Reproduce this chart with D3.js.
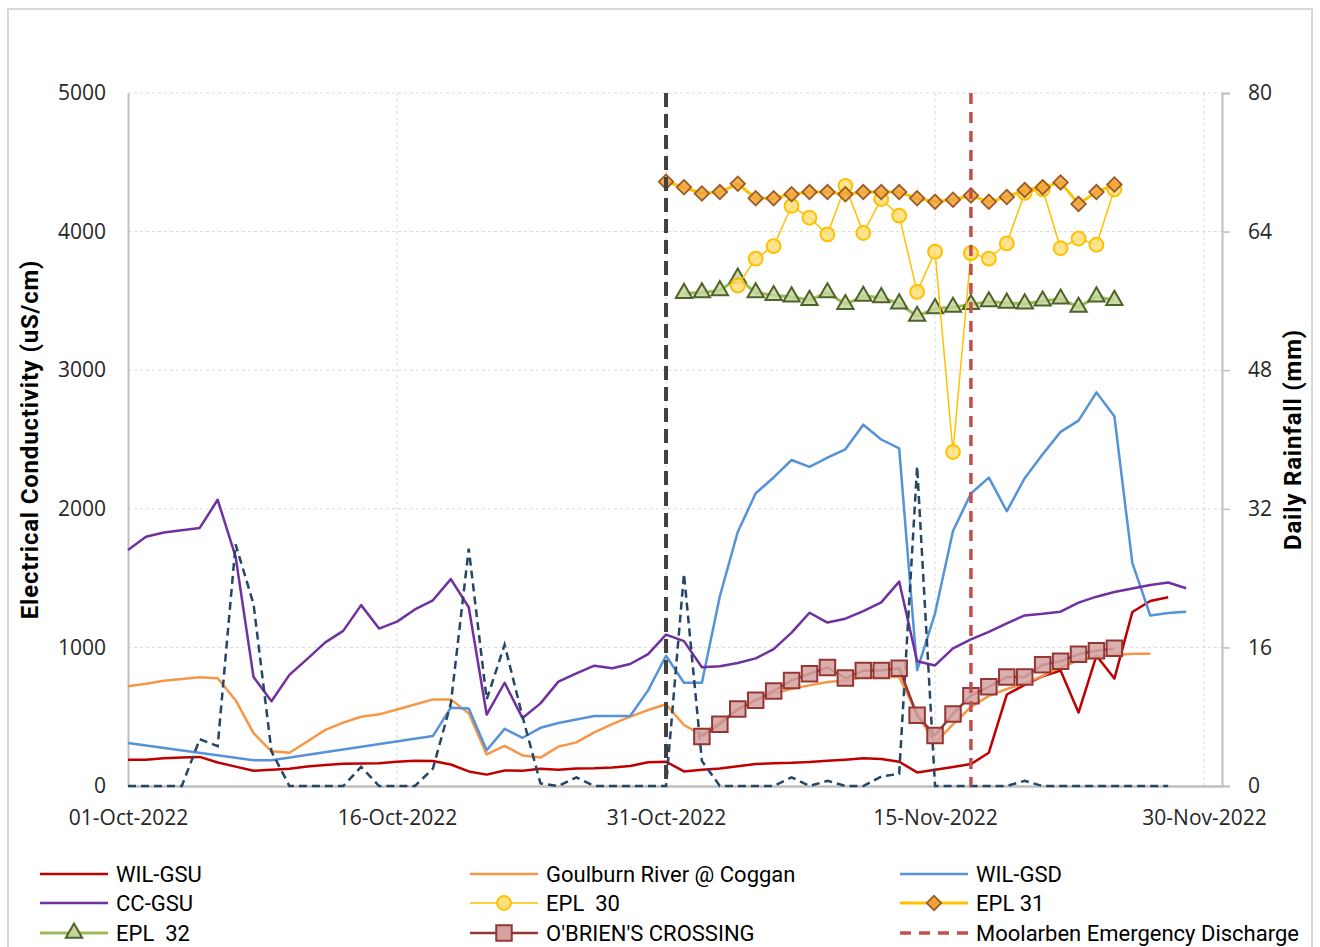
<!DOCTYPE html>
<html>
<head>
<meta charset="utf-8">
<script src="https://cdn.jsdelivr.net/npm/d3@7"></script>
<style>
  body { margin: 0; background: #fff; }
  svg { display: block; }
</style>
</head>
<body>
<div id="chart"></div>
<script>
// daily series, index 0 = first day given by the *Start value
let ecStart = "2022-10-01";
let wilGsu = [190, 190, 200, 205, 210, 170, 140, 110, 118, 125, 140, 152, 160, 162, 165, 175, 183, 180, 155, 105,
  82, 112, 110, 125, 118, 127, 128, 133, 145, 172, 175, 105, 117, 126, 142, 158, 165, 167, 173, 182,
  190, 200, 195, 175, 98, 117, 137, 158, 240, 660, 730, 792, 833, 530, 940, 775, 1255, 1335, 1362];
let goulburn = [720, 738, 760, 772, 785, 778, 619, 381, 250, 240, 321, 405, 457, 500, 517, 552, 588, 625, 625, 524,
  228, 290, 220, 205, 284, 315, 387, 447, 500, 548, 590, 440, 369, 464, 548, 619, 667, 702, 726, 750,
  762, 786, 786, 786, 520, 310, 445, 570, 650, 700, 740, 795, 857, 905, 933, 945, 955, 955];
// WIL-GSD has gaps: null = no reading, line joins the readings
let wilGsd = [310, null, null, null, null, null, null, 185, 185, null, null, null, null, null, null, null, null, 360, 565, 560,
  258, 412, 348, 420, 455, 480, 505, 505, 505, 690, 940, 745, 745, 1369, 1833, 2112, 2226, 2352, 2302, 2369,
  2429, 2607, 2500, 2436, 835, 1246, 1840, 2110, 2225, 1983, 2221, 2393, 2555, 2636, 2840, 2667, 1610, 1230, 1248, 1258];
let ccGsu = [1702, 1798, 1829, 1845, 1862, 2065, 1655, 786, 612, 802, 917, 1036, 1119, 1305, 1136, 1186, 1274, 1340, 1493, 1290,
  515, 745, 490, 596, 753, 813, 868, 849, 880, 952, 1092, 1045, 857, 864, 888, 921, 988, 1107, 1250, 1179,
  1207, 1262, 1325, 1475, 900, 870, 993, 1058, 1112, 1174, 1231, 1243, 1258, 1323, 1366, 1400, 1425, 1450, 1468, 1427];
let rainfall = [0, 0, 0, 0, 5.4, 4.6, 27.9, 21, 4, 0, 0, 0, 0, 2.2, 0, 0, 0, 2.0, 9.5, 27.4,
  10.0, 16.3, 8.0, 0.3, 0, 1.0, 0, 0, 0, 0, 0, 24.5, 2.9, 0, 0, 0, 0, 1.0, 0, 0.6,
  0, 0, 1.1, 1.4, 36.9, 0, 0, 0, 0, 0, 0.6, 0, 0, 0, 0, 0, 0, 0, 0];

let epl30Start = "2022-11-04";
let epl30 = [3610, 3805, 3895, 4185, 4100, 3980, 4330, 3990, 4235, 4115, 3565, 3855, 2410, 3845, 3805, 3915,
  4280, 4305, 3880, 3950, 3905, 4305];
let epl31Start = "2022-10-31";
let epl31 = [4360, 4320, 4275, 4285, 4345, 4240, 4240, 4270, 4285, 4285, 4270, 4285, 4285, 4285, 4240, 4215,
  4230, 4260, 4215, 4250, 4300, 4320, 4355, 4200, 4285, 4340];
let epl32Start = "2022-11-01";
let epl32 = [3555, 3560, 3575, 3665, 3560, 3540, 3530, 3505, 3560, 3475, 3535, 3525, 3480, 3390, 3445, 3455,
  3475, 3495, 3485, 3480, 3500, 3515, 3455, 3530, 3505];
let obrienStart = "2022-11-02";
let obrien = [358, 445, 555, 619, 686, 762, 810, 855, 779, 833, 833, 850, 510, 365, 520, 652, 716, 786, 786, 875,
  900, 950, 976, 993];

let blackLineDate = "2022-10-31";
let dischargeDate = "2022-11-17";

let xTickDates = ["2022-10-01", "2022-10-16", "2022-10-31", "2022-11-15", "2022-11-30"];
let ecTicks = [0, 1000, 2000, 3000, 4000, 5000];
let rainTicks = [0, 16, 32, 48, 64, 80];

let w = 1320;
let h = 947;
let plotLeft = 128, plotRight = 1222, plotTop = 93, plotBottom = 786;

let parseDate = d3.timeParse("%Y-%m-%d");
function toPoints(start, values) {
  let d0 = parseDate(start);
  return values.map(function (v, i) { return { date: d3.timeDay.offset(d0, i), value: v }; })
    .filter(function (d) { return d.value != null; });
}

let viz = d3.select("#chart").append("svg")
  .attr("width", w)
  .attr("height", h);

// outer frame
viz.append("rect")
  .attr("x", 8).attr("y", 9)
  .attr("width", 1304).attr("height", 960)
  .attr("fill", "none")
  .attr("stroke", "#d9d9d9")
  .attr("stroke-width", 2);

let xScale = d3.scaleTime()
  .domain([parseDate("2022-10-01"), parseDate("2022-12-01")])
  .range([plotLeft, plotRight]);
let yScale = d3.scaleLinear().domain([0, 5000]).range([plotBottom, plotTop]);
let yRain = d3.scaleLinear().domain([0, 80]).range([plotBottom, plotTop]);

// gridlines
let grid = viz.append("g").classed("grid", true);
grid.selectAll(".hgrid")
  .data(ecTicks.filter(function (t) { return t > 0; }))
  .enter().append("line")
  .attr("x1", plotLeft).attr("x2", plotRight)
  .attr("y1", function (d) { return yScale(d); })
  .attr("y2", function (d) { return yScale(d); })
  .attr("stroke", "#d9d9d9")
  .attr("stroke-dasharray", "3,3");
grid.selectAll(".vgrid")
  .data(xTickDates.slice(1))
  .enter().append("line")
  .attr("x1", function (d) { return xScale(parseDate(d)); })
  .attr("x2", function (d) { return xScale(parseDate(d)); })
  .attr("y1", plotTop).attr("y2", plotBottom)
  .attr("stroke", "#d9d9d9")
  .attr("stroke-dasharray", "3,3");

// axes
let tickFont = "'Open Sans', sans-serif";
let xAxis = d3.axisBottom(xScale)
  .tickValues(xTickDates.map(parseDate))
  .tickFormat(d3.timeFormat("%d-%b-%Y"))
  .tickSize(0)
  .tickPadding(24);
let xAxisGroup = viz.append("g").attr("transform", "translate(0," + plotBottom + ")").call(xAxis);
xAxisGroup.select(".domain").attr("stroke", "#bfbfbf").attr("stroke-width", 2.5);

let yAxis = d3.axisLeft(yScale).tickValues(ecTicks).tickFormat(d3.format("d")).tickSize(0).tickPadding(22);
let yAxisGroup = viz.append("g").attr("transform", "translate(" + plotLeft + ",0)").call(yAxis);
yAxisGroup.select(".domain").attr("stroke", "#bfbfbf").attr("stroke-width", 2);

let yRAxis = d3.axisRight(yRain).tickValues(rainTicks).tickSize(8).tickSizeOuter(8).tickPadding(18);
let yRAxisGroup = viz.append("g").attr("transform", "translate(" + plotRight + ",0)").call(yRAxis);
yRAxisGroup.select(".domain").attr("stroke", "#bfbfbf").attr("stroke-width", 2);
yRAxisGroup.selectAll(".tick line").attr("stroke", "#bfbfbf").attr("stroke-width", 1.5);

viz.selectAll(".tick text")
  .attr("font-family", tickFont)
  .attr("font-size", 21)
  .attr("fill", "#262626");

// axis titles
viz.append("text")
  .attr("transform", "translate(38," + ((plotTop + plotBottom) / 2) + ") rotate(-90)")
  .attr("text-anchor", "middle")
  .attr("font-family", "'Liberation Sans Narrow', 'Roboto', sans-serif")
  .attr("font-weight", "bold")
  .attr("font-size", 24)
  .attr("letter-spacing", 0.8)
  .attr("fill", "#000")
  .text("Electrical Conductivity (uS/cm)");
viz.append("text")
  .attr("transform", "translate(1301," + ((plotTop + plotBottom) / 2) + ") rotate(-90)")
  .attr("text-anchor", "middle")
  .attr("font-family", "'Liberation Sans Narrow', 'Roboto', sans-serif")
  .attr("font-weight", "bold")
  .attr("font-size", 24)
  .attr("letter-spacing", 0.8)
  .attr("fill", "#000")
  .text("Daily Rainfall (mm)");

// line generators
let ecLine = d3.line()
  .x(function (d) { return xScale(d.date); })
  .y(function (d) { return yScale(d.value); });
let rainLine = d3.line()
  .x(function (d) { return xScale(d.date); })
  .y(function (d) { return yRain(d.value); });

let plot = viz.append("g").classed("plot", true);

function drawLine(points, color, width, dash) {
  plot.append("path")
    .datum(points)
    .attr("d", ecLine)
    .attr("fill", "none")
    .attr("stroke", color)
    .attr("stroke-width", width)
    .attr("stroke-linejoin", "round")
    .attr("stroke-dasharray", dash || null);
}

drawLine(toPoints(ecStart, wilGsu), "#c00000", 2.5);
drawLine(toPoints(ecStart, goulburn), "#f79646", 2.5);
drawLine(toPoints(ecStart, wilGsd), "#5592d8", 2.5);
drawLine(toPoints(ecStart, ccGsu), "#7030a0", 2.5);

// rainfall on the right axis
plot.append("path")
  .datum(toPoints(ecStart, rainfall))
  .attr("d", rainLine)
  .attr("fill", "none")
  .attr("stroke", "#254665")
  .attr("stroke-width", 2.5)
  .attr("stroke-dasharray", "8,5");

// marker series
let markerStyles = {
  epl30: { line: "#ffc000", lineWidth: 1.5, type: d3.symbolCircle, size: 150, fill: "#ffe07f", stroke: "#ffc000", sw: 2, rot: 0 },
  epl31: { line: "#ffc000", lineWidth: 3, type: d3.symbolSquare, size: 105, fill: "#f0a33a", stroke: "#9c5b26", sw: 1.8, rot: 45 },
  epl32: { line: "#9bbb59", lineWidth: 3, type: d3.symbolTriangle, size: 115, fill: "#c3d69b", stroke: "#4f6228", sw: 2, rot: 0 },
  obrien: { line: "#943634", lineWidth: 2.5, type: d3.symbolSquare, size: 240, fill: "#d4a2a1", stroke: "#943634", sw: 2, rot: 0 }
};

function drawMarkers(points, st) {
  drawLine(points, st.line, st.lineWidth);
  plot.selectAll(null)
    .data(points)
    .enter().append("path")
    .attr("d", d3.symbol().type(st.type).size(st.size))
    .attr("transform", function (d) {
      return "translate(" + xScale(d.date) + "," + yScale(d.value) + ") rotate(" + st.rot + ")";
    })
    .attr("fill", st.fill)
    .attr("fill-opacity", 0.85)
    .attr("stroke", st.stroke)
    .attr("stroke-width", st.sw);
}

drawMarkers(toPoints(obrienStart, obrien), markerStyles.obrien);
drawMarkers(toPoints(epl32Start, epl32), markerStyles.epl32);
drawMarkers(toPoints(epl30Start, epl30), markerStyles.epl30);
drawMarkers(toPoints(epl31Start, epl31), markerStyles.epl31);

// vertical event lines
plot.append("line")
  .attr("x1", xScale(parseDate(blackLineDate))).attr("x2", xScale(parseDate(blackLineDate)))
  .attr("y1", plotTop).attr("y2", plotBottom)
  .attr("stroke", "#404040")
  .attr("stroke-width", 4)
  .attr("stroke-dasharray", "14,7");
plot.append("line")
  .attr("x1", xScale(parseDate(dischargeDate))).attr("x2", xScale(parseDate(dischargeDate)))
  .attr("y1", plotTop).attr("y2", plotBottom)
  .attr("stroke", "#c0504d")
  .attr("stroke-width", 3.5)
  .attr("stroke-dasharray", "11,8");

// legend
let legendItems = [
  { name: "WIL-GSU", color: "#c00000", width: 2.5 },
  { name: "Goulburn River @ Coggan", color: "#f79646", width: 2.5 },
  { name: "WIL-GSD", color: "#5592d8", width: 2.5 },
  { name: "CC-GSU", color: "#7030a0", width: 2.5 },
  { name: "EPL  30", style: markerStyles.epl30 },
  { name: "EPL 31", style: markerStyles.epl31 },
  { name: "EPL  32", style: markerStyles.epl32 },
  { name: "O'BRIEN'S CROSSING", style: markerStyles.obrien },
  { name: "Moolarben Emergency Discharge", color: "#c0504d", width: 3.5, dash: "11,8" }
];
let legendX = [40, 470, 900];
let legendY = [874, 903, 933];

let legend = viz.append("g").classed("legend", true);
let items = legend.selectAll(".item")
  .data(legendItems)
  .enter().append("g")
  .attr("transform", function (d, i) {
    return "translate(" + legendX[i % 3] + "," + legendY[Math.floor(i / 3)] + ")";
  });
items.append("line")
  .attr("x1", 0).attr("x2", 68)
  .attr("stroke", function (d) { return d.style ? d.style.line : d.color; })
  .attr("stroke-width", function (d) { return d.style ? d.style.lineWidth : d.width; })
  .attr("stroke-dasharray", function (d) { return d.dash || null; });
items.filter(function (d) { return d.style; })
  .append("path")
  .attr("d", function (d) { return d3.symbol().type(d.style.type).size(d.style.size)(); })
  .attr("transform", function (d) { return "translate(34,0) rotate(" + d.style.rot + ")"; })
  .attr("fill", function (d) { return d.style.fill; })
  .attr("stroke", function (d) { return d.style.stroke; })
  .attr("stroke-width", function (d) { return d.style.sw; });
items.append("text")
  .attr("x", 76)
  .attr("dy", "0.35em")
  .style("white-space", "pre")
  .attr("font-family", "'Liberation Sans Narrow', 'Roboto', sans-serif")
  .attr("font-size", 22)
  .attr("fill", "#000")
  .text(function (d) { return d.name; });
</script>
</body>
</html>
